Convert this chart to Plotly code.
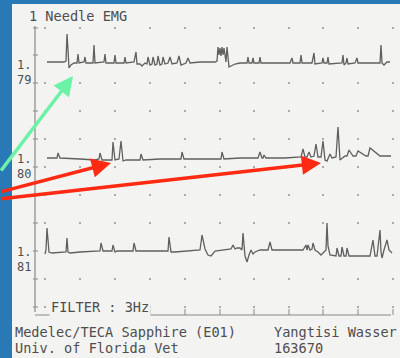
import plotly.graph_objects as go

# ---------------- data ----------------
trace_labels = ["1.79", "1.80", "1.81"]

t1_x = [47, 64, 66, 67, 68, 69, 71, 74, 77, 78, 79, 84, 85, 86, 93, 94, 95, 104, 105, 106,
        114, 115, 116, 124, 125, 126, 134, 136, 137, 140, 142, 145, 147, 148, 150, 152, 153,
        155, 157, 158, 160, 162, 163, 165, 168, 170, 172, 177, 179, 181, 186, 188, 190, 200,
        215, 217, 218, 219, 220, 221, 222, 223, 224, 226, 227, 229, 231, 235, 240, 247, 248,
        249, 252, 253, 254, 259, 260, 261, 275, 290, 292, 293, 300, 301, 302, 312, 314, 315,
        322, 323, 324, 327, 328, 329, 342, 343, 344, 346, 347, 348, 355, 357, 358, 370, 380,
        381, 382, 384, 387, 390]
t1_y = [62, 62, 61, 34, 50, 68, 65, 63, 63, 54, 63, 62, 57, 63, 63, 45, 63, 62, 54, 63,
        63, 55, 63, 63, 57, 63, 62, 52, 64, 64, 66, 63, 64, 57, 65, 64, 57,
        65, 64, 56, 65, 64, 57, 64, 63, 57, 64, 63, 56, 65, 63, 58, 63, 62,
        62, 61, 47, 55, 48, 56, 47, 55, 48, 62, 47, 67, 66, 64, 63, 63, 57,
        63, 63, 58, 63, 63, 57, 63, 63, 63, 58, 63, 63, 55, 63, 63, 53, 64,
        63, 58, 63, 63, 57, 64, 63, 55, 65, 63, 58, 64, 63, 58, 63, 63, 63,
        45, 63, 65, 62, 62]

t2_x = [47, 57, 58, 60, 80, 95, 99, 100, 102, 110, 112, 113, 115, 119, 121, 123, 126, 140,
        141, 143, 160, 181, 182, 184, 200, 215, 221, 222, 224, 240, 258, 260, 262, 263, 264,
        266, 285, 301, 303, 305, 307, 309, 311, 314, 316, 318, 321, 323, 325, 327, 329, 330,
        332, 335, 336, 338, 340, 345, 347, 349, 353, 356, 358, 366, 368, 370, 380, 391]
t2_y = [158, 158, 153, 158, 159, 160, 159, 153, 160, 160, 160, 142, 160, 159, 141, 161, 160, 160,
        154, 160, 159, 159, 152, 159, 159, 159, 159, 152, 159, 158, 158, 152, 158, 158, 155,
        158, 158, 157, 149, 157, 157, 152, 157, 156, 144, 157, 157, 141, 160, 161, 157, 154,
        158, 157, 157, 127, 160, 156, 156, 150, 156, 156, 151, 156, 156, 148, 156, 156, 155]

t3_x = [45, 46, 47, 48, 49, 52, 60, 66, 67, 68, 70, 80, 100, 101, 103, 112, 113, 115, 117,
        120, 133, 134, 136, 150, 168, 169, 171, 175, 195, 200, 202, 205, 208, 211, 215, 225,
        231, 233, 235, 237, 240, 242, 243, 245, 247, 249, 251, 253, 255, 260, 268, 270, 272,
        285, 303, 306, 307, 308, 310, 312, 313, 315, 318, 321, 324, 326, 327, 328, 330, 335,
        336, 337, 339, 341, 342, 344, 346, 347, 349, 360, 370, 373, 375, 377, 380, 381, 382,
        384, 387, 389, 392]
t3_y = [254, 250, 228, 245, 252, 253, 252, 252, 238, 252, 253, 252, 251, 243, 251, 251, 245, 252, 251,
        251, 251, 243, 251, 251, 251, 237, 252, 252, 251, 250, 235, 249, 255, 256, 251, 250,
        249, 245, 249, 248, 248, 250, 233, 256, 262, 255, 250, 254, 252, 250, 250, 242, 250,
        250, 250, 245, 250, 245, 250, 249, 243, 250, 252, 255, 252, 250, 223, 246, 255, 256,
        256, 248, 256, 256, 247, 256, 256, 248, 256, 256, 256, 240, 256, 256, 230, 252, 258,
        250, 240, 250, 253]

title_text = "1 Needle EMG"
filter_text = "FILTER : 3Hz"
footer_left = ["Medelec/TECA Sapphire (E01)", "Univ. of Florida Vet"]
footer_right = ["Yangtisi Wasser", "163670"]

# ---------------- layout constants ----------------
W, H = 400, 358
BLUE = "#2a79b7"
PAPER = "#f3f3f1"
INK = "#606060"
TEXT = "#4e4e4e"
MONO = "DejaVu Sans Mono, Liberation Mono, monospace"

grid_cols = [45, 80, 115, 150, 185, 220, 254, 289, 323, 358, 393]
grid_rows = [28, 83, 111, 139, 167, 195, 223, 279, 307]
axis_x = 35
axis_top, axis_bottom = 26, 312
base_y = 315
label_pos = [(65, 80), (159, 174), (252, 267)]
footer_y = [331.5, 348]

fig = go.Figure()

# grid dots
gx, gy = [], []
for r in grid_rows:
    for c in grid_cols:
        gx.append(c)
        gy.append(r)
fig.add_trace(go.Scatter(x=gx, y=gy, mode="markers",
                         marker=dict(size=2.2, color="#9a9a9a"),
                         hoverinfo="skip", showlegend=False))

# left axis ticks and bottom ticks
tx, ty = [], []
for r in grid_rows + [55, 251]:
    tx += [axis_x - 2, axis_x + 3, None]
    ty += [r, r, None]
for c in grid_cols[1:]:
    tx += [c, c, None]
    ty += [base_y, base_y - 6, None]
fig.add_trace(go.Scatter(x=tx, y=ty, mode="lines",
                         line=dict(color="#8a8a8a", width=1),
                         hoverinfo="skip", showlegend=False))

# EMG traces
for xs, ys in [(t1_x, t1_y), (t2_x, t2_y), (t3_x, t3_y)]:
    fig.add_trace(go.Scatter(x=xs, y=ys, mode="lines",
                             line=dict(color=INK, width=1.3),
                             hoverinfo="skip", showlegend=False))

shapes = [
    dict(type="rect", xref="x", yref="y", x0=12, x1=W + 5, y0=4, y1=H + 5,
         fillcolor=PAPER, line=dict(width=0), layer="below"),
    dict(type="line", xref="x", yref="y", x0=axis_x, x1=axis_x, y0=axis_top, y1=axis_bottom,
         line=dict(color="#8a8a8a", width=1.2)),
    dict(type="line", xref="x", yref="y", x0=axis_x, x1=391, y0=base_y, y1=base_y,
         line=dict(color="#8a8a8a", width=1.2)),
]

annotations = []
font = dict(family=MONO, size=13.6, color=TEXT)
small = dict(family=MONO, size=12, color=TEXT)
annotations.append(dict(x=27, y=16, text=title_text, showarrow=False, xanchor="left",
                        yanchor="middle", font=font))
for lab, (y1, y2) in zip(trace_labels, label_pos):
    head, tail = lab.split(".")
    annotations.append(dict(x=16, y=y1, text=head + ".", showarrow=False, xanchor="left",
                            yanchor="middle", font=small, borderpad=0))
    annotations.append(dict(x=16, y=y2, text=tail, showarrow=False, xanchor="left",
                            yanchor="middle", font=small, borderpad=0))
annotations.append(dict(x=49, y=307, text=filter_text, showarrow=False, xanchor="left",
                        yanchor="middle", font=font, bgcolor=PAPER))
for t, yy in zip(footer_left, footer_y):
    annotations.append(dict(x=14, y=yy, text=t, showarrow=False, xanchor="left",
                            yanchor="middle", font=font, borderpad=0))
for t, yy in zip(footer_right, footer_y):
    annotations.append(dict(x=273, y=yy, text=t, showarrow=False, xanchor="left",
                            yanchor="middle", font=font, borderpad=0))

# pointer arrows (tail -> tip)
arrows = [((0, 172), (73, 76), "#6cf2a6"),
          ((0, 192), (111, 163), "#ff2a12"),
          ((0, 199), (321, 163), "#ff2a12")]
for (ax, ay), (x, y), col in arrows:
    annotations.append(dict(x=x, y=y, ax=ax, ay=ay, xref="x", yref="y", axref="x", ayref="y",
                            text="", showarrow=True, arrowhead=2, arrowsize=1.1,
                            arrowwidth=3.5, arrowcolor=col))

fig.update_layout(
    width=W, height=H, margin=dict(l=0, r=0, t=0, b=0),
    paper_bgcolor=BLUE, plot_bgcolor=BLUE,
    xaxis=dict(range=[0, W], visible=False, fixedrange=True),
    yaxis=dict(range=[H, 0], visible=False, fixedrange=True),
    shapes=shapes, annotations=annotations, showlegend=False,
)

fig.write_html("out.html", config={"displayModeBar": False},
               post_script="document.body.style.margin='0';document.body.style.overflow='hidden';")
